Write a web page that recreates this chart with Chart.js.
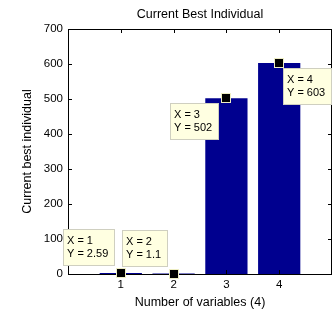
<!DOCTYPE html>
<html>
<head>
<meta charset="utf-8">
<script src="https://cdn.jsdelivr.net/npm/chart.js@4.4.1/dist/chart.umd.min.js"></script>
<style>
  html, body { margin: 0; padding: 0; background: #fff; }
  canvas { display: block; }
</style>
</head>
<body>
<canvas id="bestChart" width="333" height="311"></canvas>
<script>
// values
const xValues = [1, 2, 3, 4];
const yValues = [2.59, 1.1, 502, 603];
const xTicks = [1, 2, 3, 4];
const yTicks = [0, 100, 200, 300, 400, 500, 600, 700];
// where each data tip box sits relative to its point
const tipPlacement = ['upper-left', 'upper-left', 'lower-left', 'lower-right'];

const FONT = '"Liberation Sans", Arial, sans-serif';

// box on all four sides with inward tick marks
const frameAndTicks = {
    id: 'frameAndTicks',
    afterDatasetsDraw(chart) {
        const { ctx, chartArea: a, scales } = chart;
        const len = 4;
        ctx.save();
        ctx.strokeStyle = '#000';
        ctx.lineWidth = 1;
        ctx.beginPath();
        yTicks.forEach(v => {
            const y = Math.round(scales.y.getPixelForValue(v)) + 0.5;
            ctx.moveTo(a.left, y); ctx.lineTo(a.left + len, y);
            ctx.moveTo(a.right, y); ctx.lineTo(a.right - len, y);
        });
        xTicks.forEach(v => {
            const x = Math.round(scales.x.getPixelForValue(v)) + 0.5;
            ctx.moveTo(x, a.top); ctx.lineTo(x, a.top + len);
            ctx.moveTo(x, a.bottom); ctx.lineTo(x, a.bottom - len);
        });
        ctx.stroke();
        ctx.strokeRect(Math.round(a.left) + 0.5, Math.round(a.top) + 0.5,
            Math.round(a.right - a.left) - 1, Math.round(a.bottom - a.top));
        ctx.restore();
    }
};

// MATLAB style data tips
const dataTips = {
    id: 'dataTips',
    afterDraw(chart) {
        const { ctx, scales } = chart;
        ctx.save();
        ctx.font = '11px ' + FONT;
        const pts = xValues.map((x, i) => ({
            px: Math.round(scales.x.getPixelForValue(x)),
            py: Math.round(scales.y.getPixelForValue(yValues[i]))
        }));
        pts.forEach((p, i) => {
            const l1 = 'X = ' + xValues[i];
            const l2 = 'Y = ' + yValues[i];
            const w = Math.ceil(Math.max(ctx.measureText(l1).width, ctx.measureText(l2).width)) + 10;
            const h = 37;
            let left, top;
            const where = tipPlacement[i];
            if (where === 'upper-left') { left = p.px - 6 - w; top = p.py - 7 - h; }
            else if (where === 'lower-left') { left = p.px - 7 - w; top = p.py + 5; }
            else { left = p.px + 4; top = p.py + 5; }
            ctx.fillStyle = '#ffffe1';
            ctx.fillRect(left, top, w, h);
            ctx.strokeStyle = '#cfcfc0';
            ctx.lineWidth = 1;
            ctx.strokeRect(left + 0.5, top + 0.5, w - 1, h - 1);
            ctx.fillStyle = '#000';
            ctx.textBaseline = 'middle';
            ctx.textAlign = 'left';
            ctx.fillText(l1, left + 4, top + 12);
            ctx.fillText(l2, left + 4, top + 25);
        });
        pts.forEach(p => {
            ctx.fillStyle = '#eeeec4';
            ctx.fillRect(p.px - 5, p.py - 5, 10, 10);
            ctx.fillStyle = '#000';
            ctx.fillRect(p.px - 4, p.py - 4, 8, 8);
        });
        ctx.restore();
    }
};

const ctx = document.getElementById('bestChart').getContext('2d');
new Chart(ctx, {
    type: 'bar',
    data: {
        datasets: [{
            data: xValues.map((x, i) => ({ x: x, y: yValues[i] })),
            backgroundColor: 'rgb(0, 0, 143)',
            borderColor: 'rgb(30, 30, 170)',
            borderWidth: 0,
            categoryPercentage: 1,
            barPercentage: 0.8
        }]
    },
    options: {
        responsive: false,
        animation: false,
        events: [],
        layout: { padding: { top: 0, right: 1, bottom: 0, left: 0 } },
        plugins: {
            legend: { display: false },
            tooltip: { enabled: false },
            title: {
                display: true,
                fullSize: false,
                text: 'Current Best Individual',
                color: '#000',
                font: { family: FONT, size: 12.5, weight: 'normal' },
                padding: { top: 7, bottom: 7 }
            }
        },
        scales: {
            x: {
                type: 'linear',
                min: 0,
                max: 5,
                offset: false,
                afterBuildTicks: s => { s.ticks = xTicks.map(v => ({ value: v })); },
                afterFit: s => { s.height = 37; },
                grid: { display: false, drawTicks: false, offset: false },
                border: { display: false },
                ticks: { color: '#000', padding: 4, font: { family: FONT, size: 11.5 } },
                title: {
                    display: true,
                    text: 'Number of variables (4)',
                    color: '#000',
                    font: { family: FONT, size: 12.5 },
                    padding: { top: 0, bottom: 0.5 }
                }
            },
            y: {
                min: 0,
                max: 700,
                afterBuildTicks: s => { s.ticks = yTicks.map(v => ({ value: v })); },
                afterFit: s => { s.width = 68; },
                grid: { display: false, drawTicks: false },
                border: { display: false },
                ticks: { color: '#000', padding: 5, font: { family: FONT, size: 11.5 } },
                title: {
                    display: true,
                    text: 'Current best individual',
                    color: '#000',
                    font: { family: FONT, size: 12.5 },
                    padding: { top: 20.5, bottom: 0 }
                }
            }
        }
    },
    plugins: [frameAndTicks, dataTips]
});
</script>
</body>
</html>
